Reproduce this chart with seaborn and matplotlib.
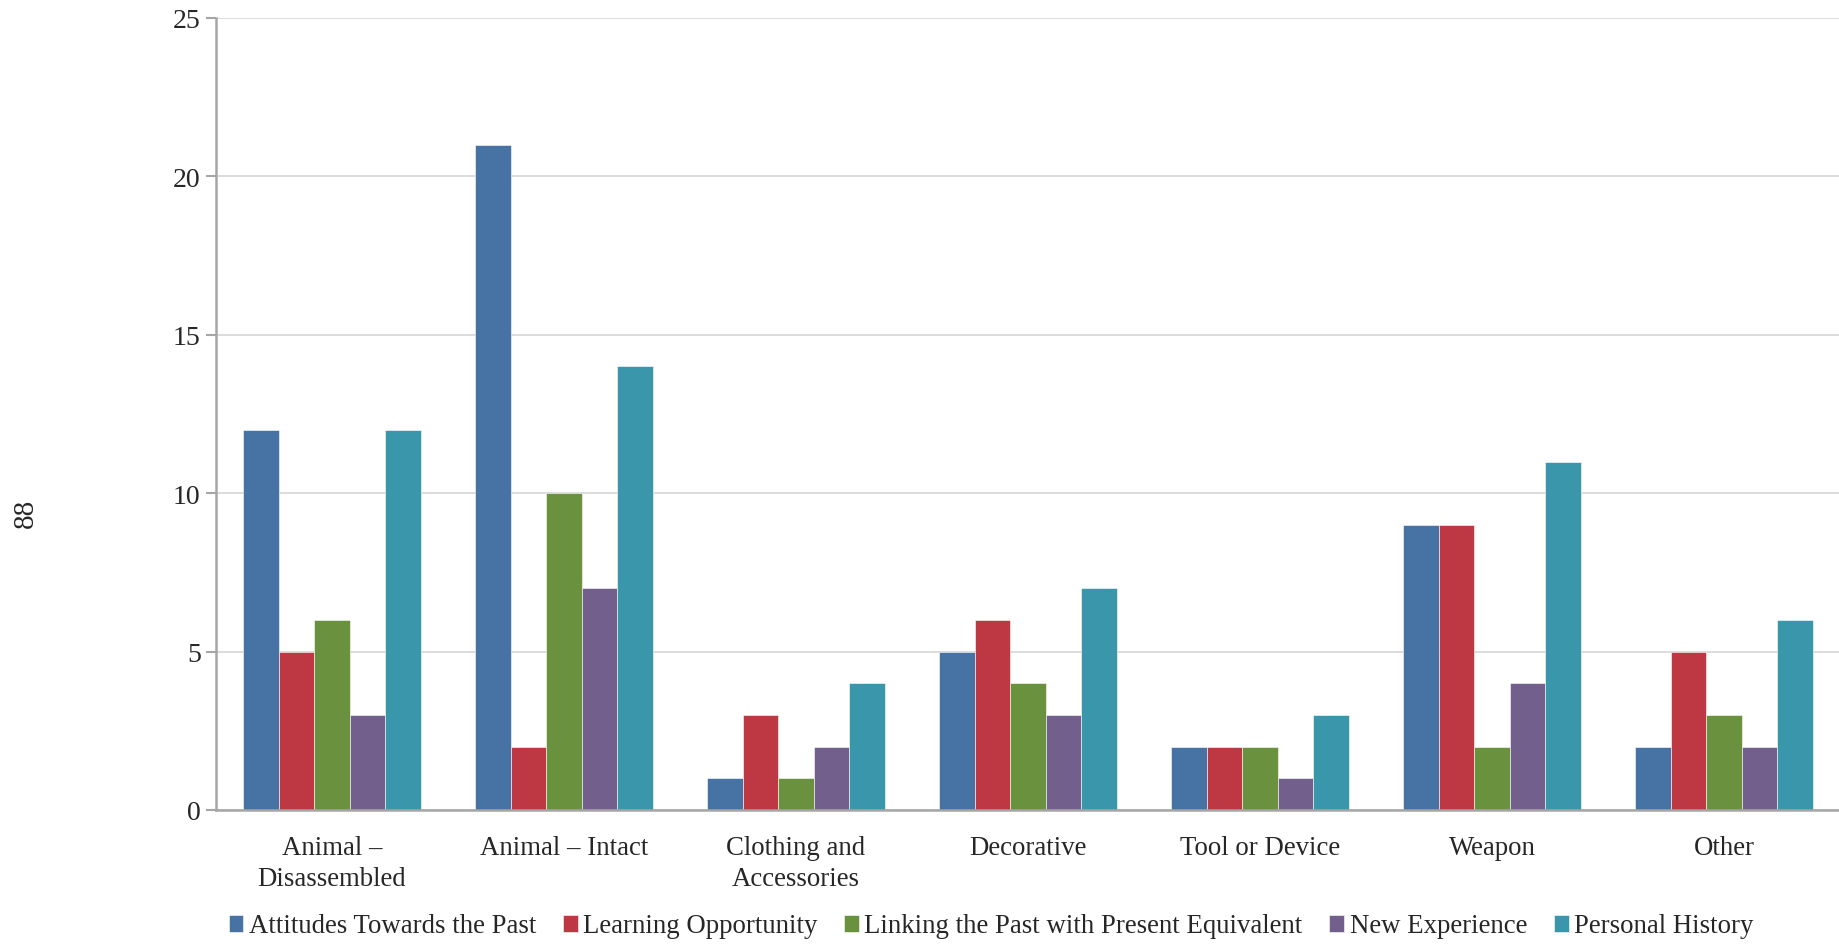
import matplotlib
matplotlib.use("Agg")
import matplotlib.pyplot as plt
import seaborn as sns
import pandas as pd
import numpy as np

# Counts of responses by object type and theme
categories = ["Animal –\nDisassembled", "Animal – Intact", "Clothing and\nAccessories",
              "Decorative", "Tool or Device", "Weapon", "Other"]
series = ["Attitudes Towards the Past", "Learning Opportunity",
          "Linking the Past with Present Equivalent", "New Experience", "Personal History"]
attitudes = [12, 21, 1, 5, 2, 9, 2]
learning = [5, 2, 3, 6, 2, 9, 5]
linking = [6, 10, 1, 4, 2, 2, 3]
new_experience = [3, 7, 2, 3, 1, 4, 2]
personal = [12, 14, 4, 7, 3, 11, 6]
colors = ["#4672A4", "#BD3843", "#6A913E", "#735F8C", "#3A97AB"]
y_ticks = [0, 5, 10, 15, 20, 25]

values = [attitudes, learning, linking, new_experience, personal]
df = pd.DataFrame({
    "category": np.repeat([categories], len(series), axis=0).ravel(),
    "series": np.repeat(series, len(categories)),
    "value": np.concatenate(values),
})

sns.set_theme(style="white")
plt.rcParams["font.family"] = ["Liberation Serif", "DejaVu Serif"]

fig = plt.figure(figsize=(18.4, 9.45), dpi=100)
ax = fig.add_axes([216 / 1840, 134 / 945, 1624 / 1840, 792 / 945])

sns.barplot(data=df, x="category", y="value", hue="series", order=categories,
            hue_order=series, palette=colors, saturation=1, width=0.766,
            edgecolor="white", linewidth=0.4, ax=ax, legend=True)

ax.set_xlim(-0.5, len(categories) - 0.5)
ax.set_ylim(0, 25)
ax.set_yticks(y_ticks)
ax.set_yticklabels([str(t) for t in y_ticks], fontsize=20)
ax.yaxis.grid(True, color="#D9D9D9", linewidth=1.3)
ax.set_axisbelow(True)

# Category ticks sit on group boundaries; labels stay centred
ax.set_xticks(np.arange(len(categories)))
ax.set_xticklabels(categories, fontsize=19.3, linespacing=1.32)
ax.set_xticks(np.arange(-0.5, len(categories)), minor=True)
ax.tick_params(axis="x", which="major", length=0, pad=18)
ax.tick_params(axis="x", which="minor", length=7, width=1.5, color="#A6A6A6", direction="out")
ax.tick_params(axis="y", which="major", length=7, width=1.5, color="#A6A6A6",
               direction="out", pad=4, left=True)

for side in ["top", "right"]:
    ax.spines[side].set_visible(False)
for side in ["left", "bottom"]:
    ax.spines[side].set_color("#A6A6A6")
    ax.spines[side].set_linewidth(1.8)

ax.set_xlabel("")
ax.set_ylabel("")
fig.text(26 / 1840, 1 - 513 / 945, "88", rotation=90, fontsize=21,
         ha="center", va="center")

handles, labels = ax.get_legend_handles_labels()
ax.legend(handles, labels, loc="center", bbox_to_anchor=(991 / 1840, 1 - 927 / 945),
          bbox_transform=fig.transFigure, ncol=5, frameon=False, fontsize=19.3,
          handlelength=0.55, handleheight=0.6, handletextpad=0.2, columnspacing=1.0,
          borderaxespad=0)

fig.savefig("out.png", dpi=100)
